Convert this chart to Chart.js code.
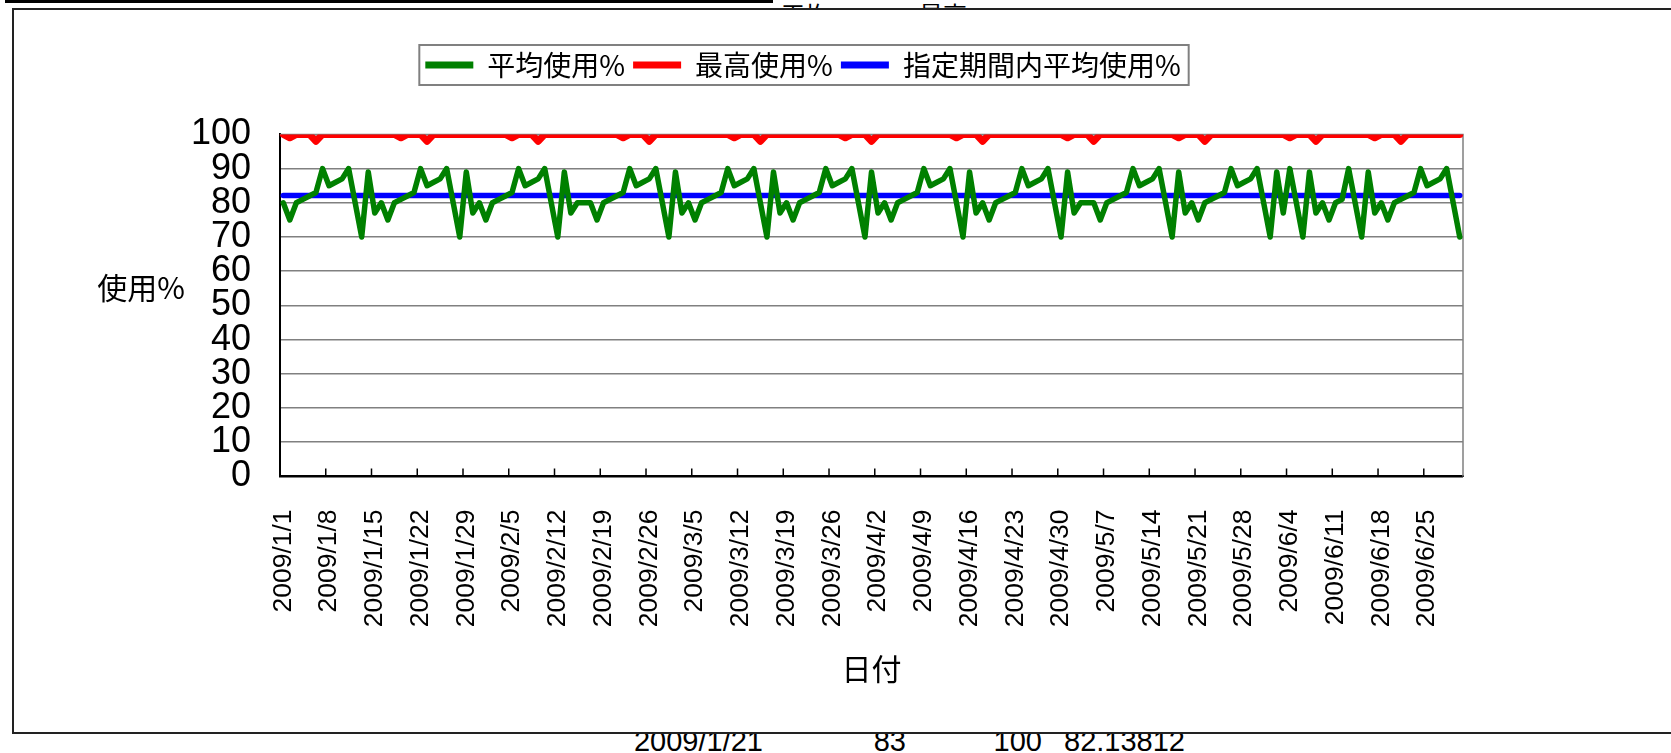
<!DOCTYPE html>
<html lang="ja">
<head>
<meta charset="utf-8">
<title>使用%</title>
<script src="https://cdn.jsdelivr.net/npm/chart.js@4.4.1/dist/chart.umd.min.js"></script>
<style>
  html, body { margin: 0; padding: 0; background: #fff; }
  body { position: relative; width: 1671px; height: 753px; overflow: hidden; }
  .bar { position: absolute; left: 5px; top: 0; width: 768px; height: 3px; background: #000; }
  .head { position: absolute; top: 0; font: 24px/28px 'Noto Sans CJK JP', sans-serif; color: #000; }
  .cell { position: absolute; top: 727px; font: 29px/29px 'Liberation Sans', Arial, sans-serif; color: #000; white-space: nowrap; }
  .frame { position: absolute; left: 12px; top: 8px; width: 1700px; height: 726px; box-sizing: border-box; border: 2px solid #222; background: #fff; }
  #chart { position: absolute; left: 0; top: 0; }
</style>
</head>
<body>
<div class="bar"></div>
<span class="head" style="left:781px">平均</span>
<span class="head" style="left:919px">最高</span>
<span class="cell" style="right:908px">2009/1/21</span>
<span class="cell" style="right:765px">83</span>
<span class="cell" style="right:629px">100</span>
<span class="cell" style="right:486px">82.13812</span>
<div class="frame"></div>
<canvas id="chart" width="1671" height="753"></canvas>
<script>
// categories: every day from 2009/1/1 to 2009/6/30
const monthDays = [31, 28, 31, 30, 31, 30];
const dates = [];
monthDays.forEach((n, m) => {
    for (let d = 1; d <= n; d++) dates.push(`2009/${m + 1}/${d}`);
});

// 平均使用%
const avgUse = [
    80, 75, 80, 81, 82, 83, 90, 85, 86, 87, 90, 80, 70, 89, 77,
    80, 75, 80, 81, 82, 83, 90, 85, 86, 87, 90, 80, 70, 89, 77,
    80, 75, 80, 81, 82, 83, 90, 85, 86, 87, 90, 80, 70, 89, 77,
    80, 80, 80, 75, 80, 81, 82, 83, 90, 85, 86, 87, 90, 80, 70, 89, 77,
    80, 75, 80, 81, 82, 83, 90, 85, 86, 87, 90, 80, 70, 89, 77,
    80, 75, 80, 81, 82, 83, 90, 85, 86, 87, 90, 80, 70, 89, 77,
    80, 75, 80, 81, 82, 83, 90, 85, 86, 87, 90, 80, 70, 89, 77,
    80, 75, 80, 81, 82, 83, 90, 85, 86, 87, 90, 80, 70, 89, 77,
    80, 80, 80, 75, 80, 81, 82, 83, 90, 85, 86, 87, 90, 80, 70, 89, 77,
    80, 75, 80, 81, 82, 83, 90, 85, 86, 87, 90, 80, 70, 89, 77,
    90, 80, 70, 89, 77, 80, 75, 80, 81, 90, 80, 70, 89, 77,
    80, 75, 80, 81, 82, 83, 90, 85, 86, 87, 90, 80, 70
];

// 最高使用%
const maxUse = [
    100, 99, 100, 100, 100, 98, 100, 100, 100, 100, 100, 100, 100, 100, 100,
    100, 100, 100, 99, 100, 100, 100, 98, 100, 100, 100, 100, 100, 100, 100,
    100, 100, 100, 100, 100, 99, 100, 100, 100, 98, 100, 100, 100, 100, 100,
    100, 100, 100, 100, 100, 100, 100, 99, 100, 100, 100, 98, 100, 100, 100, 100, 100,
    100, 100, 100, 100, 100, 100, 100, 99, 100, 100, 100, 98, 100, 100, 100,
    100, 100, 100, 100, 100, 100, 100, 100, 100, 99, 100, 100, 100, 98, 100,
    100, 100, 100, 100, 100, 100, 100, 100, 100, 100, 100, 99, 100, 100, 100,
    98, 100, 100, 100, 100, 100, 100, 100, 100, 100, 100, 100, 100, 99, 100,
    100, 100, 98, 100, 100, 100, 100, 100, 100, 100, 100, 100, 100, 100, 100, 99, 100,
    100, 100, 98, 100, 100, 100, 100, 100, 100, 100, 100, 100, 100, 100, 100,
    99, 100, 100, 100, 98, 100, 100, 100, 100, 100, 100, 100, 100, 99,
    100, 100, 100, 98, 100, 100, 100, 100, 100, 100, 100, 100, 100
];

// 指定期間内平均使用%
const periodAvg = 82.13812;

const yTicks = [0, 10, 20, 30, 40, 50, 60, 70, 80, 90, 100];
const xTickEvery = 7;

const cjk = "'Noto Sans CJK JP', sans-serif";
const latin = "'Liberation Sans', Arial, sans-serif";

// extra room between the legend and the plot
const legendSpacer = {
    id: 'legendSpacer',
    beforeLayout(chart) {
        const lg = chart.legend;
        if (!lg || lg._spaced) return;
        const fit = lg.fit;
        lg.fit = function () {
            fit.call(this);
            this.height += 45.4;
        };
        lg._spaced = true;
    }
};

const plotExtras = {
    id: 'plotExtras',
    beforeDatasetsDraw(chart) {
        const { ctx, chartArea: a, scales: { x } } = chart;
        ctx.save();
        // plot area border
        ctx.strokeStyle = '#808080';
        ctx.lineWidth = 1.5;
        ctx.beginPath();
        ctx.moveTo(a.left, a.top);
        ctx.lineTo(a.right, a.top);
        ctx.lineTo(a.right, a.bottom);
        ctx.stroke();
        // tick marks pointing inward
        const half = (x.getPixelForValue(1) - x.getPixelForValue(0)) / 2;
        ctx.strokeStyle = '#000';
        ctx.beginPath();
        dates.forEach((d, i) => {
            if (i % xTickEvery) return;
            const px = x.getPixelForValue(i) - half;
            ctx.moveTo(px, a.bottom);
            ctx.lineTo(px, a.bottom - 8);
        });
        ctx.stroke();
        ctx.restore();
    },
    afterDraw(chart) {
        const { ctx, chartArea: a, legend } = chart;
        ctx.save();
        // horizontal y axis title
        ctx.font = `30px ${cjk}`;
        ctx.fillStyle = '#000';
        ctx.textAlign = 'center';
        ctx.textBaseline = 'middle';
        ctx.fillText('使用%', a.left - 139, a.top + 153);
        // legend frame
        const boxes = legend.legendHitBoxes;
        const last = boxes[boxes.length - 1];
        const l = boxes[0].left - 6;
        const r = last.left + last.width + 8;
        const cy = boxes[0].top + boxes[0].height / 2;
        ctx.strokeStyle = '#808080';
        ctx.lineWidth = 2;
        ctx.strokeRect(l, cy - 20, r - l, 40);
        ctx.restore();
    }
};

const chart = document.querySelector('#chart').getContext('2d');

new Chart(chart, {
    type: 'line',
    data: {
        labels: dates,
        datasets: [
            {
                label: '平均使用%',
                data: avgUse,
                borderColor: '#008000',
                backgroundColor: '#008000',
                borderWidth: 5.5
            },
            {
                label: '最高使用%',
                data: maxUse,
                borderColor: '#ff0000',
                backgroundColor: '#ff0000',
                borderWidth: 7
            },
            {
                label: '指定期間内平均使用%',
                data: dates.map(() => periodAvg),
                borderColor: '#0000ff',
                backgroundColor: '#0000ff',
                borderWidth: 5.5
            }
        ]
    },
    options: {
        responsive: false,
        animation: false,
        elements: {
            point: { radius: 0 },
            line: { tension: 0, borderJoinStyle: 'round', borderCapStyle: 'round' }
        },
        layout: { padding: { top: 43, left: 143, right: 208, bottom: 0 } },
        plugins: {
            legend: {
                labels: {
                    usePointStyle: true,
                    pointStyle: 'line',
                    pointStyleWidth: 48,
                    padding: 8,
                    color: '#000',
                    font: { family: cjk, size: 28 },
                    generateLabels(c) {
                        return Chart.defaults.plugins.legend.labels.generateLabels(c)
                            .map(item => Object.assign(item, { lineWidth: 7 }));
                    }
                }
            },
            tooltip: { enabled: false }
        },
        scales: {
            x: {
                type: 'category',
                offset: true,
                grid: { display: false, drawTicks: false },
                border: { display: true, color: '#000', width: 2 },
                ticks: {
                    autoSkip: false,
                    minRotation: 90,
                    maxRotation: 90,
                    padding: 33,
                    color: '#000',
                    font: { family: latin, size: 26.5 },
                    callback(v, i) { return i % xTickEvery === 0 ? dates[i] : ''; }
                },
                title: {
                    display: true,
                    text: '日付',
                    color: '#000',
                    font: { family: cjk, size: 30 },
                    padding: { top: 0, bottom: 66 }
                },
                afterFit(s) { s.height = 276.6; }
            },
            y: {
                min: 0,
                max: 100,
                afterBuildTicks(s) { s.ticks = yTicks.map(v => ({ value: v })); },
                ticks: { autoSkip: false, padding: 29, color: '#000', font: { family: latin, size: 36 } },
                grid: {
                    color: c => c.tick && c.tick.value === 0 ? '#000' : '#808080',
                    lineWidth: 1.5,
                    drawTicks: false
                },
                border: { color: '#000', width: 2 },
                afterFit(s) { s.width = 137; }
            }
        }
    },
    plugins: [legendSpacer, plotExtras]
});
</script>
</body>
</html>
